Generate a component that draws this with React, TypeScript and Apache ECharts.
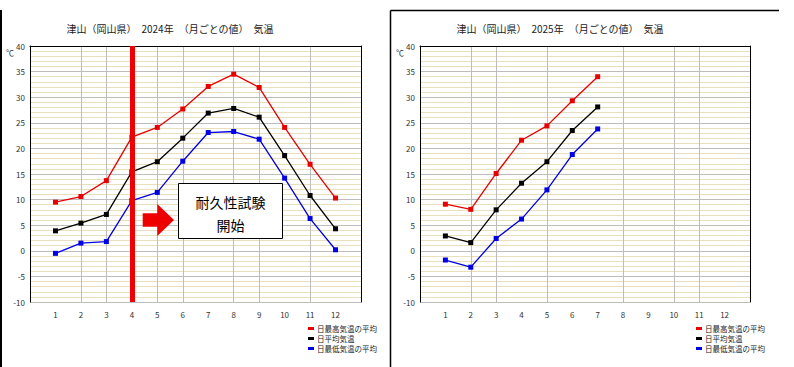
import React, { useEffect, useRef } from "react";
import * as echarts from "echarts";

const months = ["1", "2", "3", "4", "5", "6", "7", "8", "9", "10", "11", "12"];
const categories = ["", ...months, " "];
const yTicks = { min: -10, max: 40, step: 5 };

const max2024 = [9.5, 10.6, 13.7, 22.2, 24.1, 27.7, 32.1, 34.5, 31.9, 24.1, 16.9, 10.3];
const avg2024 = [3.9, 5.4, 7.1, 15.4, 17.4, 22.0, 26.9, 27.8, 26.1, 18.6, 10.8, 4.3];
const min2024 = [-0.5, 1.5, 1.8, 9.8, 11.4, 17.5, 23.1, 23.3, 21.8, 14.2, 6.3, 0.2];

const max2025 = [9.1, 8.1, 15.1, 21.6, 24.4, 29.3, 34.0];
const avg2025 = [2.9, 1.6, 8.0, 13.2, 17.4, 23.5, 28.1];
const min2025 = [-1.8, -3.2, 2.4, 6.2, 11.9, 18.8, 23.8];

const seriesNames = ["日最高気温の平均", "日平均気温", "日最低気温の平均"];
const seriesColors = ["#e80000", "#000000", "#0000e8"];

const titles = ["津山（岡山県）　2024年　（月ごとの値）　気温", "津山（岡山県）　2025年　（月ごとの値）　気温"];
const startMonth = "4";
const noteLines = ["耐久性試験", "開始"];

// vertical grid lines visible in the reference, by category index
const vLines2024 = [2, 3, 5, 6, 8, 9, 11];
const vLines2025 = [2, 3, 5, 8, 10, 11];

const FONT = "'Noto Sans CJK JP', 'Noto Sans', sans-serif";

export default function App() {
  const ref = useRef<HTMLDivElement>(null);
  useEffect(() => {
    if (!ref.current) return;
    const chart = echarts.init(ref.current, null, { renderer: "svg" });

    const grids = [
      { left: 30, top: 46, width: 331, height: 256 },
      { left: 420, top: 46, width: 330, height: 256 },
    ];
    const vLines = [vLines2024, vLines2025];

    const xAxis: any[] = [];
    const yAxis: any[] = [];
    grids.forEach((_, g) => {
      xAxis.push({
        type: "category",
        gridIndex: g,
        data: categories,
        boundaryGap: false,
        position: "bottom",
        axisLine: { show: false, onZero: false },
        axisTick: { show: false },
        axisLabel: { interval: 0, fontSize: 8, color: "#333", margin: 8, fontFamily: FONT },
        splitLine: {
          show: true,
          interval: (i: number) => vLines[g].includes(i),
          lineStyle: { color: "#bdbdbd", width: 1 },
        },
      });
      xAxis.push({
        type: "category",
        gridIndex: g,
        data: categories,
        boundaryGap: false,
        position: "top",
        axisLine: { show: true, onZero: false, lineStyle: { color: "#000", width: 1 } },
        axisTick: { show: false },
        axisLabel: { show: false },
        splitLine: { show: false },
      });
      yAxis.push({
        type: "value",
        gridIndex: g,
        min: yTicks.min,
        max: yTicks.max,
        interval: yTicks.step,
        position: "left",
        axisLine: { show: true, onZero: false, lineStyle: { color: "#000", width: 1 } },
        axisTick: { show: false },
        axisLabel: { fontSize: 8, color: "#333", margin: 5, fontFamily: FONT },
        splitLine: { show: true, lineStyle: { color: "#bdbdbd", width: 1 } },
        minorTick: { show: false, splitNumber: 5 },
        minorSplitLine: { show: true, lineStyle: { color: "#eadfbd", width: 1 } },
      });
      yAxis.push({
        type: "value",
        gridIndex: g,
        min: yTicks.min,
        max: yTicks.max,
        interval: yTicks.step,
        position: "right",
        axisLine: { show: true, onZero: false, lineStyle: { color: "#000", width: 1 } },
        axisTick: { show: false },
        axisLabel: { show: false },
        splitLine: { show: false },
      });
    });

    const datasets = [
      [max2024, avg2024, min2024],
      [max2025, avg2025, min2025],
    ];
    const series: any[] = [];
    datasets.forEach((sets, g) => {
      sets.forEach((vals, k) => {
        const s: any = {
          type: "line",
          name: seriesNames[k],
          xAxisIndex: g * 2,
          yAxisIndex: g * 2,
          data: vals.map((v, i) => [months[i], v]),
          symbol: "rect",
          symbolSize: 5,
          lineStyle: { color: seriesColors[k], width: 1.3 },
          itemStyle: { color: seriesColors[k] },
          z: 3,
        };
        if (g === 0 && k === 0) {
          s.markLine = {
            silent: true,
            symbol: "none",
            label: { show: false },
            lineStyle: { color: "#ee0000", width: 5, type: "solid" },
            data: [{ xAxis: startMonth }],
            z: 5,
          };
        }
        series.push(s);
      });
    });

    const legendBase = {
      orient: "vertical",
      itemGap: 1,
      itemWidth: 6,
      itemHeight: 3,
      icon: "rect",
      data: seriesNames,
      textStyle: { fontSize: 7.5, lineHeight: 9, color: "#222", padding: [0, 0, 0, -2] },
      selectedMode: false,
    };

    chart.setOption({
      animation: false,
      textStyle: { fontFamily: FONT },
      title: [
        {
          text: titles[0],
          left: 165,
          top: 18,
          textAlign: "center",
          textStyle: { fontSize: 10, fontWeight: "normal", color: "#222", fontFamily: FONT },
        },
        {
          text: titles[1],
          left: 555,
          top: 18,
          textAlign: "center",
          textStyle: { fontSize: 10, fontWeight: "normal", color: "#222", fontFamily: FONT },
        },
      ],
      grid: grids,
      xAxis,
      yAxis,
      legend: [
        { ...legendBase, left: 303, top: 319 },
        { ...legendBase, left: 691, top: 319 },
      ],
      graphic: [
        { type: "line", shape: { x1: 1, y1: 10, x2: 1, y2: 367 }, style: { stroke: "#000", lineWidth: 2 } },
        { type: "line", shape: { x1: 390.5, y1: 10.5, x2: 779, y2: 10.5 }, style: { stroke: "#000", lineWidth: 1.5 } },
        { type: "line", shape: { x1: 390.5, y1: 10.5, x2: 390.5, y2: 367 }, style: { stroke: "#000", lineWidth: 1.5 } },
        { type: "text", left: 6, top: 48, style: { text: "℃", fontSize: 8, fill: "#333", fontFamily: FONT } },
        { type: "text", left: 396, top: 48, style: { text: "℃", fontSize: 8, fill: "#333", fontFamily: FONT } },
        {
          type: "polygon",
          z: 10,
          shape: {
            points: [
              [142.7, 213.3],
              [157.3, 213.3],
              [157.3, 204],
              [174, 220],
              [157.3, 236],
              [157.3, 226.7],
              [142.7, 226.7],
            ],
          },
          style: { fill: "#ee0000" },
        },
        {
          type: "rect",
          z: 10,
          shape: { x: 178.5, y: 183.5, width: 104, height: 55 },
          style: { fill: "#fff", stroke: "#000", lineWidth: 1 },
        },
        {
          type: "text",
          z: 11,
          x: 230.5,
          y: 201.5,
          style: {
            text: noteLines[0],
            fontSize: 14,
            fill: "#000",
            align: "center",
            verticalAlign: "middle",
            fontFamily: FONT,
          },
        },
        {
          type: "text",
          z: 11,
          x: 230.5,
          y: 224.5,
          style: {
            text: noteLines[1],
            fontSize: 14,
            fill: "#000",
            align: "center",
            verticalAlign: "middle",
            fontFamily: FONT,
          },
        },
      ],
      series,
    });
    return () => chart.dispose();
  }, []);

  return (
    <div
      ref={ref}
      style={{ position: "fixed", left: 0, top: 0, width: 794, height: 367, background: "#fff" }}
    />
  );
}
